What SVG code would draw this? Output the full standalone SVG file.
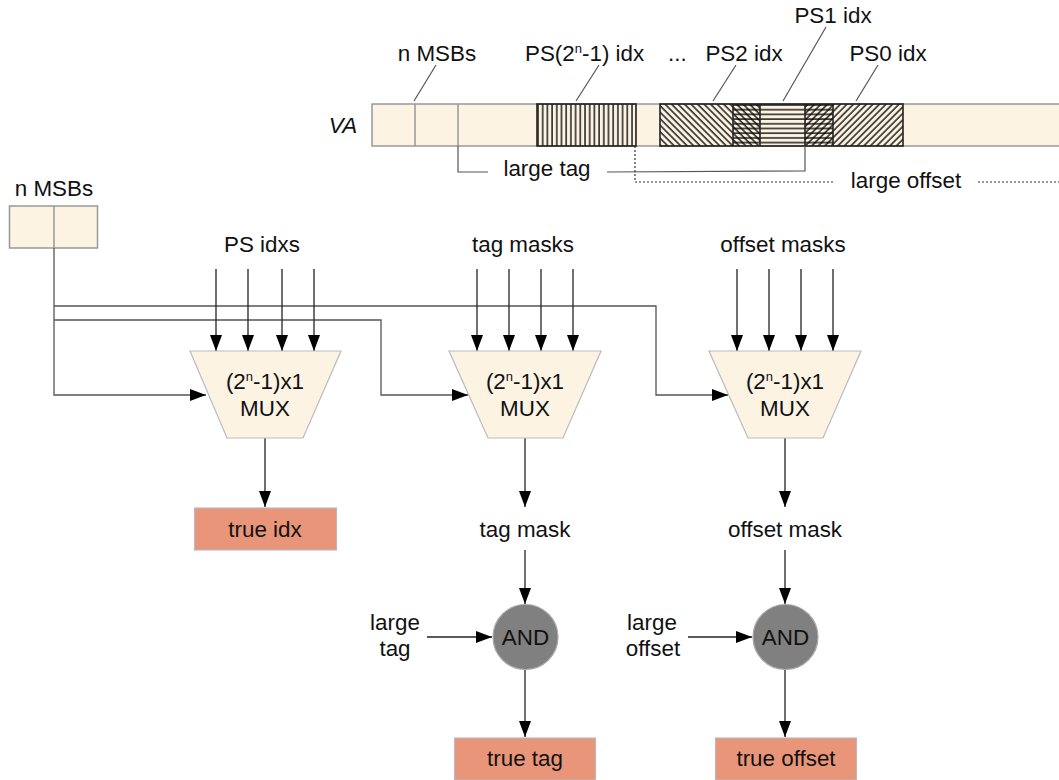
<svg xmlns="http://www.w3.org/2000/svg" width="1059" height="780" viewBox="0 0 1059 780">
<style>
text{font-family:"Liberation Sans",Arial,sans-serif;font-size:22.4px;fill:#111;}
.c{text-anchor:middle;}
.cell{fill:#fcf3e3;stroke:#999;stroke-width:1.5;}
.hb{stroke:#222;stroke-width:1.6;}
.lead{stroke:#555;stroke-width:1.2;fill:none;}
.wire{stroke:#555;stroke-width:1.3;fill:none;}
.arr{stroke:#222;stroke-width:1.3;fill:none;marker-end:url(#ah);}
.mux{fill:#fcf3e3;stroke:#bbb;stroke-width:1.2;}
.out{fill:#e9957a;stroke:#bbb;stroke-width:1.2;}
.and{fill:#808080;stroke:#aaa;stroke-width:1.2;}
</style>
<defs>
<marker id="ah" markerUnits="userSpaceOnUse" markerWidth="16" markerHeight="12" refX="16" refY="6" orient="auto">
<path d="M0,0 L16,6 L0,12 z" fill="#000"/>
</marker>
<pattern id="pv" patternUnits="userSpaceOnUse" x="537" y="0" width="4.7" height="10">
<line x1="1" y1="0" x2="1" y2="10" stroke="#000" stroke-width="1.3"/>
</pattern>
<pattern id="ph" patternUnits="userSpaceOnUse" x="0" y="104" width="10" height="4.7">
<line x1="0" y1="1" x2="10" y2="1" stroke="#000" stroke-width="1.3"/>
</pattern>
<pattern id="pb" patternUnits="userSpaceOnUse" width="4.6" height="10" patternTransform="rotate(-45)">
<line x1="1" y1="0" x2="1" y2="10" stroke="#000" stroke-width="1.3"/>
</pattern>
<pattern id="pf" patternUnits="userSpaceOnUse" width="4.6" height="10" patternTransform="rotate(45)">
<line x1="1" y1="0" x2="1" y2="10" stroke="#000" stroke-width="1.3"/>
</pattern>
</defs>

<g id="va">
<text x="343" y="133" class="c" style="font-style:italic">VA</text>
<rect class="cell" x="372" y="104" width="700" height="42"/>
<line x1="415" y1="104" x2="415" y2="146" stroke="#999" stroke-width="1.5"/>
<line x1="458" y1="104" x2="458" y2="146" stroke="#999" stroke-width="1.5"/>
<rect x="537" y="104" width="99" height="42" fill="url(#pv)"/>
<rect x="660" y="104" width="100" height="42" fill="url(#pb)"/>
<rect x="733" y="104" width="100" height="42" fill="url(#ph)"/>
<rect x="805" y="104" width="98" height="42" fill="url(#pf)"/>
<rect x="537" y="104" width="99" height="42" fill="none" class="hb"/>
<rect x="660" y="104" width="243" height="42" fill="none" class="hb"/>
<line class="hb" x1="733" y1="104" x2="733" y2="146"/>
<line class="hb" x1="760" y1="104" x2="760" y2="146"/>
<line class="hb" x1="805" y1="104" x2="805" y2="146"/>
<line class="hb" x1="833" y1="104" x2="833" y2="146"/>
</g>

<g id="va-labels">
<text x="437" y="61" class="c">n MSBs</text>
<text x="525" y="61">PS(2<tspan font-size="13" dy="-8">n</tspan><tspan dy="8">-1) idx</tspan></text>
<text x="668" y="61">...</text>
<text x="744" y="61" class="c">PS2 idx</text>
<text x="833" y="23" class="c">PS1 idx</text>
<text x="888" y="61" class="c">PS0 idx</text>
<line class="lead" x1="436" y1="65" x2="414" y2="101"/>
<line class="lead" x1="599" y1="65" x2="576" y2="101"/>
<line class="lead" x1="736" y1="65" x2="713" y2="101"/>
<line class="lead" x1="826" y1="27" x2="783" y2="101"/>
<line class="lead" x1="878" y1="65" x2="856" y2="101"/>
</g>

<g id="ranges">
<polyline class="lead" points="458,146 458,172 488,172"/>
<text x="547" y="176" class="c">large tag</text>
<polyline class="lead" points="607,172 805,171 805,146"/>
<polyline points="635,146 635,182 835,182" fill="none" stroke="#333" stroke-width="1.2" stroke-dasharray="2,2"/>
<text x="906" y="188" class="c">large offset</text>
<line x1="978" y1="182" x2="1059" y2="182" stroke="#333" stroke-width="1.2" stroke-dasharray="2,2"/>
</g>

<g id="msb">
<text x="54" y="196" class="c">n MSBs</text>
<rect class="cell" x="9.5" y="206" width="88" height="42"/>
<line x1="54" y1="206" x2="54" y2="248" stroke="#999" stroke-width="1.5"/>
</g>

<g id="connectors">
<polyline class="wire" points="54,248 54,395 190,395"/>
<polyline class="wire" points="54,306 656,306 656,395 712,395"/>
<polyline class="wire" points="54,320 381,320 381,395 452,395"/>
<line class="arr" x1="190" y1="395" x2="206" y2="395"/>
<line class="arr" x1="452" y1="395" x2="468" y2="395"/>
<line class="arr" x1="712" y1="395" x2="728" y2="395"/>

<line class="arr" x1="216" y1="269" x2="216" y2="351"/>
<line class="arr" x1="248" y1="269" x2="248" y2="351"/>
<line class="arr" x1="282" y1="269" x2="282" y2="351"/>
<line class="arr" x1="314" y1="269" x2="314" y2="351"/>

<line class="arr" x1="477" y1="269" x2="477" y2="351"/>
<line class="arr" x1="509" y1="269" x2="509" y2="351"/>
<line class="arr" x1="541" y1="269" x2="541" y2="351"/>
<line class="arr" x1="573" y1="269" x2="573" y2="351"/>

<line class="arr" x1="737" y1="269" x2="737" y2="351"/>
<line class="arr" x1="769" y1="269" x2="769" y2="351"/>
<line class="arr" x1="801" y1="269" x2="801" y2="351"/>
<line class="arr" x1="833" y1="269" x2="833" y2="351"/>

<line class="arr" x1="265" y1="438" x2="265" y2="507"/>
<line class="arr" x1="525" y1="438" x2="525" y2="507"/>
<line class="arr" x1="785" y1="438" x2="785" y2="507"/>
<line class="arr" x1="525" y1="550" x2="525" y2="604"/>
<line class="arr" x1="785" y1="550" x2="785" y2="604"/>
<line class="arr" x1="427" y1="637" x2="492" y2="637"/>
<line class="arr" x1="688" y1="637" x2="752" y2="637"/>
<line class="arr" x1="525" y1="670" x2="525" y2="737"/>
<line class="arr" x1="785" y1="670" x2="785" y2="737"/>
</g>

<g id="labels-top">
<text x="262" y="252" class="c">PS idxs</text>
<text x="523" y="252" class="c">tag masks</text>
<text x="783" y="252" class="c">offset masks</text>
</g>

<g id="mux1">
<polygon class="mux" points="190,351 341,351 303,438 227,438"/>
<text x="265" y="389" class="c">(2<tspan font-size="13" dy="-8">n</tspan><tspan dy="8">-1)x1</tspan></text>
<text x="265" y="416" class="c">MUX</text>
</g>
<g id="mux2">
<polygon class="mux" points="449,351 601,351 563,438 488,438"/>
<text x="525" y="389" class="c">(2<tspan font-size="13" dy="-8">n</tspan><tspan dy="8">-1)x1</tspan></text>
<text x="525" y="416" class="c">MUX</text>
</g>
<g id="mux3">
<polygon class="mux" points="709,351 861,351 823,438 748,438"/>
<text x="785" y="389" class="c">(2<tspan font-size="13" dy="-8">n</tspan><tspan dy="8">-1)x1</tspan></text>
<text x="785" y="416" class="c">MUX</text>
</g>

<g id="true-idx">
<rect class="out" x="194.5" y="508" width="142" height="42"/>
<text x="265" y="537" class="c">true idx</text>
</g>
<g id="tag-mask"><text x="525" y="537" class="c">tag mask</text></g>
<g id="offset-mask"><text x="785" y="537" class="c">offset mask</text></g>

<g id="and1">
<circle class="and" cx="525.5" cy="637" r="32.5"/>
<text x="525.5" y="645" class="c">AND</text>
</g>
<g id="and2">
<circle class="and" cx="785.5" cy="637" r="32.5"/>
<text x="785.5" y="645" class="c">AND</text>
</g>
<g id="large-tag-in">
<text x="395" y="630" class="c">large</text>
<text x="395" y="656" class="c">tag</text>
</g>
<g id="large-offset-in">
<text x="652" y="630" class="c">large</text>
<text x="653" y="656" class="c">offset</text>
</g>

<g id="true-tag">
<rect class="out" x="454.5" y="738" width="141" height="42"/>
<text x="525" y="766" class="c">true tag</text>
</g>
<g id="true-offset">
<rect class="out" x="715.5" y="738" width="141" height="42"/>
<text x="786" y="766" class="c">true offset</text>
</g>
</svg>
